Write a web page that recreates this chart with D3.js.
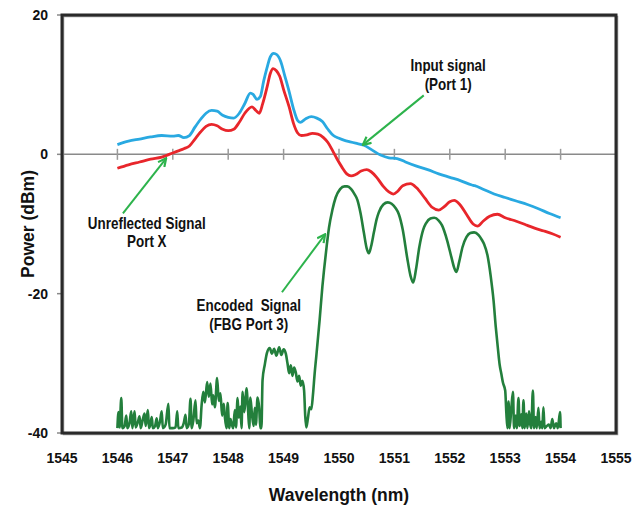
<!DOCTYPE html>
<html><head><meta charset="utf-8">
<script src="https://cdn.jsdelivr.net/npm/d3@7"></script>
<style>
html,body{margin:0;padding:0;background:#fff;}
text{font-family:"Liberation Sans",Arial,sans-serif;font-weight:bold;fill:#111;}
</style></head>
<body><svg id="c" width="643" height="508"></svg>
<script>
// ---- data ----
const xTicks = [1545,1546,1547,1548,1549,1550,1551,1552,1553,1554,1555];
const yTicks = [20,0,-20,-40];
const xTitle = "Wavelength (nm)";
const yTitle = "Power (dBm)";

// Input signal (Port 1) - blue
const inputSignal = [[1546.0,1.4],[1546.2,1.9],[1546.4,2.2],[1546.6,2.5],[1546.8,2.7],[1547.0,2.6],[1547.1,2.7],[1547.2,2.4],[1547.3,2.7],[1547.4,3.9],[1547.5,5.0],[1547.6,5.9],[1547.7,6.3],[1547.8,6.2],[1547.9,5.6],[1548.0,5.3],[1548.1,5.2],[1548.2,5.9],[1548.3,7.3],[1548.4,8.8],[1548.45,8.6],[1548.52,7.9],[1548.58,8.3],[1548.64,10.5],[1548.7,12.4],[1548.76,14.0],[1548.82,14.5],[1548.88,14.3],[1548.95,13.3],[1549.02,11.3],[1549.1,9.0],[1549.18,6.5],[1549.25,4.9],[1549.3,4.6],[1549.4,5.1],[1549.5,5.4],[1549.6,5.2],[1549.7,4.7],[1549.8,3.6],[1549.9,2.7],[1550.0,2.3],[1550.1,2.0],[1550.2,1.8],[1550.3,1.6],[1550.45,1.3],[1550.6,0.6],[1550.75,-0.1],[1550.9,-0.5],[1551.05,-0.6],[1551.2,-1.1],[1551.4,-1.7],[1551.6,-2.2],[1551.8,-2.8],[1552.0,-3.3],[1552.2,-3.8],[1552.4,-4.4],[1552.45,-4.5],[1552.6,-5.0],[1552.8,-5.7],[1553.0,-6.2],[1553.2,-6.7],[1553.4,-7.2],[1553.6,-7.8],[1553.8,-8.5],[1554.0,-9.1]];

// Unreflected signal (Port X) - red
const unreflectedSignal = [[1546.0,-2.0],[1546.2,-1.5],[1546.4,-1.1],[1546.6,-0.7],[1546.8,-0.4],[1547.0,0.2],[1547.1,0.5],[1547.2,0.8],[1547.3,1.2],[1547.4,2.2],[1547.5,3.2],[1547.6,4.0],[1547.7,4.3],[1547.8,4.1],[1547.9,3.6],[1548.0,3.4],[1548.1,3.6],[1548.2,4.6],[1548.3,5.9],[1548.43,6.8],[1548.5,6.3],[1548.56,5.9],[1548.62,7.2],[1548.7,9.6],[1548.76,11.6],[1548.81,12.3],[1548.87,12.0],[1548.93,11.2],[1549.0,9.3],[1549.1,6.8],[1549.18,4.4],[1549.25,3.1],[1549.32,2.7],[1549.42,2.8],[1549.52,3.0],[1549.62,2.9],[1549.72,2.4],[1549.8,1.7],[1549.88,0.6],[1549.96,-0.6],[1550.05,-1.8],[1550.14,-2.8],[1550.22,-3.1],[1550.3,-2.9],[1550.4,-2.4],[1550.5,-2.2],[1550.58,-2.5],[1550.68,-3.3],[1550.8,-4.6],[1550.9,-5.4],[1550.98,-5.7],[1551.06,-5.3],[1551.15,-4.5],[1551.29,-4.2],[1551.4,-4.8],[1551.55,-6.3],[1551.68,-7.6],[1551.8,-8.0],[1551.9,-7.5],[1552.0,-6.8],[1552.08,-6.6],[1552.18,-7.2],[1552.3,-8.6],[1552.42,-10.0],[1552.5,-10.3],[1552.6,-9.6],[1552.72,-8.9],[1552.86,-8.6],[1553.0,-9.1],[1553.2,-9.6],[1553.4,-10.2],[1553.53,-10.6],[1553.7,-11.0],[1553.85,-11.4],[1554.0,-11.9]];

// Encoded signal (FBG Port 3) - green
const encodedSignal = [[1546.00,-39.3],[1546.02,-37.0],[1546.04,-39.2],[1546.07,-35.0],[1546.09,-39.3],[1546.13,-39.0],[1546.16,-37.5],[1546.18,-39.3],[1546.22,-38.5],[1546.25,-36.9],[1546.27,-39.3],[1546.31,-36.9],[1546.33,-39.2],[1546.37,-38.4],[1546.40,-37.6],[1546.42,-39.3],[1546.46,-38.0],[1546.49,-37.2],[1546.51,-39.0],[1546.55,-36.7],[1546.57,-39.3],[1546.60,-38.6],[1546.62,-37.7],[1546.64,-39.3],[1546.68,-39.0],[1546.71,-37.9],[1546.73,-39.3],[1546.77,-38.3],[1546.80,-36.9],[1546.82,-39.3],[1546.87,-38.8],[1546.92,-35.8],[1546.94,-39.3],[1547.00,-39.3],[1547.05,-39.2],[1547.08,-36.9],[1547.10,-39.3],[1547.16,-39.2],[1547.20,-38.5],[1547.23,-37.4],[1547.25,-39.3],[1547.29,-38.7],[1547.32,-35.1],[1547.34,-39.3],[1547.37,-38.2],[1547.41,-35.3],[1547.43,-38.6],[1547.46,-38.2],[1547.49,-39.3],[1547.52,-36.0],[1547.55,-34.1],[1547.58,-35.6],[1547.62,-32.7],[1547.65,-34.8],[1547.68,-32.9],[1547.71,-35.9],[1547.73,-34.6],[1547.76,-36.3],[1547.80,-32.1],[1547.83,-35.4],[1547.86,-34.3],[1547.89,-37.5],[1547.92,-35.8],[1547.94,-37.7],[1547.97,-39.3],[1547.99,-35.7],[1548.02,-39.3],[1548.04,-38.0],[1548.06,-38.6],[1548.09,-39.3],[1548.12,-36.7],[1548.14,-39.2],[1548.17,-35.0],[1548.19,-37.8],[1548.22,-36.2],[1548.24,-39.3],[1548.26,-34.1],[1548.29,-37.0],[1548.31,-35.4],[1548.33,-33.6],[1548.36,-36.9],[1548.38,-39.3],[1548.40,-34.9],[1548.43,-37.4],[1548.46,-39.0],[1548.48,-36.4],[1548.50,-38.8],[1548.53,-34.9],[1548.56,-36.5],[1548.58,-39.3],[1548.60,-39.3],[1548.62,-32.4],[1548.66,-30.2],[1548.70,-28.5],[1548.75,-27.8],[1548.79,-28.6],[1548.83,-27.9],[1548.87,-28.9],[1548.92,-27.7],[1548.96,-28.8],[1549.00,-28.0],[1549.04,-28.6],[1549.07,-30.0],[1549.10,-31.4],[1549.13,-30.3],[1549.16,-31.8],[1549.19,-30.6],[1549.22,-31.3],[1549.25,-32.6],[1549.28,-31.8],[1549.31,-33.2],[1549.34,-32.5],[1549.37,-33.9],[1549.39,-37.5],[1549.41,-39.2],[1549.44,-37.8],[1549.47,-36.3],[1549.50,-36.6],[1549.53,-34.5],[1549.56,-31.5],[1549.59,-29.0],[1549.65,-23.8],[1549.70,-19.0],[1549.73,-16.6],[1549.78,-13.0],[1549.82,-10.5],[1549.88,-8.0],[1549.94,-6.2],[1550.02,-5.0],[1550.10,-4.6],[1550.15,-4.6],[1550.22,-5.0],[1550.28,-5.7],[1550.33,-6.5],[1550.39,-8.5],[1550.45,-11.3],[1550.50,-13.5],[1550.54,-14.2],[1550.58,-13.2],[1550.63,-11.2],[1550.68,-9.3],[1550.72,-8.3],[1550.80,-7.2],[1550.88,-6.9],[1550.95,-7.1],[1551.02,-7.7],[1551.08,-8.6],[1551.15,-10.8],[1551.23,-14.8],[1551.29,-17.4],[1551.34,-18.4],[1551.39,-16.5],[1551.45,-13.3],[1551.52,-10.8],[1551.57,-9.9],[1551.65,-9.2],[1551.72,-9.1],[1551.80,-9.5],[1551.86,-10.2],[1551.95,-12.3],[1552.03,-14.8],[1552.08,-16.3],[1552.12,-16.9],[1552.17,-15.4],[1552.23,-13.3],[1552.30,-11.9],[1552.37,-11.3],[1552.44,-11.2],[1552.52,-11.6],[1552.58,-12.3],[1552.62,-12.9],[1552.68,-14.5],[1552.74,-17.6],[1552.79,-21.0],[1552.83,-24.8],[1552.87,-28.0],[1552.90,-30.2],[1552.93,-31.5],[1552.96,-32.8],[1553.00,-33.9],[1553.02,-37.0],[1553.04,-39.3],[1553.06,-35.5],[1553.08,-39.3],[1553.11,-36.5],[1553.14,-34.1],[1553.16,-39.3],[1553.19,-37.5],[1553.21,-39.3],[1553.24,-35.0],[1553.26,-39.0],[1553.29,-37.3],[1553.31,-39.3],[1553.33,-35.3],[1553.35,-39.3],[1553.38,-37.2],[1553.40,-39.3],[1553.43,-36.9],[1553.45,-38.7],[1553.47,-39.3],[1553.50,-33.9],[1553.52,-39.3],[1553.55,-37.7],[1553.57,-39.3],[1553.60,-36.4],[1553.62,-39.3],[1553.65,-38.4],[1553.67,-39.3],[1553.69,-36.3],[1553.71,-39.3],[1553.75,-39.0],[1553.79,-38.8],[1553.82,-39.3],[1553.85,-38.0],[1553.88,-39.3],[1553.92,-38.6],[1553.95,-39.3],[1553.99,-37.0],[1554.00,-39.3]];

// annotations: label lines (text, x, y in data units) and arrows (from -> to, data units)
const annotationLabels = [
  ["Input signal",1551.97,11.9],["(Port 1)",1551.97,9.2],
  ["Unreflected Signal",1546.53,-10.76],["Port X",1546.53,-13.34],
  ["Encoded  Signal",1548.37,-22.5],["(FBG Port 3)",1548.37,-25.25]
];
const annotationArrows = [
  [1551.53,8.46,1550.43,1.36],
  [1546.10,-8.46,1546.88,-0.57],
  [1548.97,-19.8,1549.75,-11.48]
];

// ---- chart ----
const svg = d3.select("#c");
const L=62,R=616,T=15,B=433;
const x = d3.scaleLinear().domain([1545,1555]).range([L,R]);
const y = d3.scaleLinear().domain([-40,20]).range([B,T]);

// zero line with ticks
svg.append("line").attr("x1",L).attr("x2",R).attr("y1",y(0)).attr("y2",y(0))
  .attr("stroke","#8a8a8a").attr("stroke-width",1.5);
svg.append("g").selectAll("line").data(xTicks.slice(1)).join("line")
  .attr("x1",d=>x(d)).attr("x2",d=>x(d)).attr("y1",y(0)-5.5).attr("y2",y(0)+5.5)
  .attr("stroke","#9a9a9a").attr("stroke-width",1.5);

// y ticks (left)
svg.append("g").selectAll("line").data(yTicks).join("line")
  .attr("x1",L-5).attr("x2",L).attr("y1",d=>y(d)).attr("y2",d=>y(d))
  .attr("stroke","#8a8a8a").attr("stroke-width",1.5);

// series
const line = d3.line().x(d=>x(d[0])).y(d=>y(d[1])).curve(d3.curveMonotoneX);
svg.append("path").datum(encodedSignal).attr("d",line).attr("fill","none")
  .attr("stroke","#237f3c").attr("stroke-width",2.6).attr("stroke-linejoin","round");
svg.append("path").datum(inputSignal).attr("d",line).attr("fill","none")
  .attr("stroke","#29a9e1").attr("stroke-width",2.8).attr("stroke-linejoin","round");
svg.append("path").datum(unreflectedSignal).attr("d",line).attr("fill","none")
  .attr("stroke","#e8262b").attr("stroke-width",2.8).attr("stroke-linejoin","round");

// frame
svg.append("rect").attr("x",L+1.5).attr("y",T+1.5).attr("width",R-L).attr("height",B-T)
  .attr("fill","none").attr("stroke","#9a9a9a").attr("stroke-width",1.5);
svg.append("rect").attr("x",L).attr("y",T).attr("width",R-L).attr("height",B-T)
  .attr("fill","none").attr("stroke","#2a2a2a").attr("stroke-width",3);

// tick labels
svg.append("g").selectAll("text").data(xTicks).join("text")
  .attr("x",d=>x(d)).attr("y",463).attr("text-anchor","middle")
  .style("font-size","14px").text(d=>d);
svg.append("g").selectAll("text").data(yTicks).join("text")
  .attr("x",48).attr("y",d=>y(d)+5).attr("text-anchor","end")
  .style("font-size","14px").text(d=>d);

// axis titles
svg.append("text").attr("x",(L+R)/2).attr("y",501).attr("text-anchor","middle")
  .style("font-size","17.5px").text(xTitle);
svg.append("text").attr("transform","translate(34,224) rotate(-90)").attr("text-anchor","middle")
  .style("font-size","17.5px").text(yTitle);

// arrows
const defs = svg.append("defs");
defs.append("marker").attr("id","ah").attr("viewBox","0 0 10 10").attr("refX",9).attr("refY",5)
  .attr("markerWidth",5).attr("markerHeight",5).attr("orient","auto").attr("markerUnits","strokeWidth")
  .append("path").attr("d","M1,1 L9,5 L1,9").attr("fill","none").attr("stroke","#2db34c").attr("stroke-width",2.2);
svg.append("g").selectAll("line").data(annotationArrows).join("line")
  .attr("x1",d=>x(d[0])).attr("y1",d=>y(d[1])).attr("x2",d=>x(d[2])).attr("y2",d=>y(d[3]))
  .attr("stroke","#2db34c").attr("stroke-width",2).attr("marker-end","url(#ah)");

// annotation text: condensed bold (narrow face emulated by horizontal scale)
svg.append("g").selectAll("text").data(annotationLabels).join("text")
  .attr("transform",d=>`translate(${x(d[1])},${y(d[2])}) scale(0.84,1)`)
  .attr("text-anchor","middle")
  .style("font-size","16px").style("white-space","pre").attr("xml:space","preserve").text(d=>d[0]);
</script></body></html>
